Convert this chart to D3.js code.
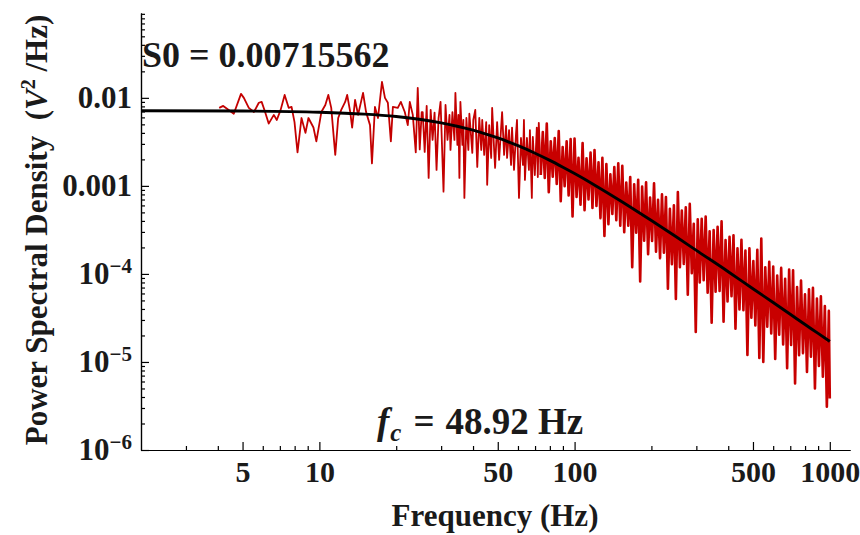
<!DOCTYPE html>
<html lang="en">
<head>
<meta charset="UTF-8">
<title>Power Spectral Density</title>
<script src="https://d3js.org/d3.v7.min.js"></script>
<style>
    body { margin: 0; background: #fff; }
    svg { display: block; background: #fff; font-family: "Liberation Serif", "Times New Roman", serif; font-weight: bold; }
    .axis path, .axis line { stroke: #000; stroke-width: 1.2px; }
    .axis text { font-size: 30px; font-weight: bold; fill: #1a1a1a; font-family: "Liberation Serif", serif; }
    .psd { fill: none; stroke: #c40000; stroke-width: 1.8px; stroke-linejoin: round; }
    .psd.dense { stroke: #c80000; stroke-width: 2.6px; }
    .fit { fill: none; stroke: #000; stroke-width: 2.9px; }
    .label { fill: #1a1a1a; white-space: pre; }
</style>
</head>
<body>
<div id="chart"></div>
<script>
// measured spectrum, [frequency (Hz), PSD (V^2/Hz)]
const measuredPsd = [
    [4.05, 7.7e-3], [4.20, 8.1e-3], [4.62, 6.6e-3], [4.93, 1.11e-2], [5.06, 1.0e-2], [5.29, 7.7e-3],
    [5.54, 6.9e-3], [5.79, 8.8e-3], [5.94, 9.0e-3], [6.11, 7.1e-3], [6.33, 5.1e-3], [6.63, 6.4e-3],
    [6.81, 5.6e-3], [7.05, 7.3e-3], [7.31, 1.08e-2], [7.58, 7.7e-3], [7.78, 7.9e-3], [7.99, 5.3e-3],
    [8.21, 2.4e-3], [8.51, 5.9e-3], [8.82, 4.0e-3], [9.06, 5.9e-3], [9.48, 4.6e-3], [9.73, 3.2e-3],
    [10.18, 6.9e-3], [10.55, 8.3e-3], [10.84, 1.08e-2], [11.13, 7.7e-3], [11.54, 2.25e-3], [11.85, 5.9e-3],
    [12.18, 7.3e-3], [12.62, 9.0e-3], [12.85, 1.08e-2], [13.21, 6.9e-3], [13.44, 4.6e-3], [13.80, 9.5e-3],
    [14.18, 6.4e-3], [14.83, 1.14e-2], [15.24, 6.9e-3], [15.79, 4.9e-3], [16.07, 1.8e-3], [16.51, 7.9e-3],
    [16.97, 5.9e-3], [17.59, 1.52e-2], [18.07, 1.0e-2], [18.55, 8.8e-3], [19.06, 3.2e-3], [19.41, 7.9e-3],
    [20.29, 7.7e-3], [20.85, 9.0e-3], [21.61, 6.9e-3], [22.20, 4.9e-3], [22.61, 9.0e-3], [23.23, 6.4e-3],
    [23.86, 2.4e-3], [24.29, 1.3e-2], [24.73, 2.6e-3], [25.17, 6.9e-3],
    [25.40, 6.9e-3], [25.86, 2.43e-3], [26.33, 8.1e-3], [26.80, 1.23e-3], [27.29, 7.3e-3], [27.77, 3.33e-3],
    [28.27, 6.8e-3], [28.78, 1.52e-3], [29.31, 5.9e-3], [29.84, 9.0e-3], [30.65, 8.6e-4], [31.21, 8.3e-3],
    [31.77, 3.33e-3], [32.35, 6.4e-3], [32.64, 2.56e-3], [33.22, 6.9e-3], [33.82, 3.33e-3], [34.12, 1.14e-2],
    [34.74, 2.92e-3], [35.06, 6.4e-3], [35.37, 1.23e-3], [35.69, 9.0e-3], [36.34, 2.92e-3], [36.67, 5.6e-3],
    [37.00, 7.3e-4], [37.67, 5.9e-3], [38.35, 2.56e-3], [38.70, 6.6e-3], [39.40, 3.33e-3], [39.74, 2.37e-3],
    [40.10, 5.6e-3], [40.82, 7.3e-3], [41.56, 1.64e-3], [42.32, 5.9e-3], [43.08, 2.56e-3], [43.46, 5.6e-3],
    [44.25, 2.25e-3], [45.05, 5.3e-3], [45.45, 1.03e-3], [46.28, 4.9e-3], [47.12, 2.08e-3], [47.53, 7.7e-3],
    [48.39, 2.56e-3], [48.82, 1.6e-3], [49.71, 5.3e-3], [50.61, 1.97e-3], [52.00, 6.9e-3], [52.94, 2.25e-3],
    [53.90, 4.8e-3], [54.38, 2.08e-3], [55.37, 4.3e-3], [56.37, 1.73e-3], [56.87, 4.6e-3], [57.90, 1.52e-3],
    [58.95, 3.9e-3], [59.47, 5.6e-3], [60.55, 7.3e-4], [61.65, 3.5e-3], [62.76, 1.73e-3], [63.32, 5.6e-3],
    [63.89, 1.17e-3], [65.05, 3.5e-3], [66.23, 1.52e-3], [66.83, 4.3e-3], [68.00, 7.3e-4], [68.61, 3.6e-3],
    [69.85, 1.33e-3], [71.11, 4.6e-3], [71.76, 1.26e-3], [72.40, 5.2e-3], [73.72, 1.33e-3],
    [75.07, 4.1e-3], [76.42, 1.23e-3], [77.81, 5.1e-3], [79.22, 8.5e-4], [80.66, 3.2e-3],
    [82.13, 1.27e-3], [83.61, 3.5e-3], [85.13, 1.05e-3], [86.67, 4.2e-3], [88.25, 6.7e-4],
    [89.80, 2.76e-3], [91.42, 9.9e-4], [93.08, 3.2e-3], [94.77, 7.8e-4], [96.49, 3.4e-3],
    [98.18, 4.5e-4], [99.95, 3.45e-3], [101.8, 7.5e-4], [103.6, 2.09e-3], [105.5, 6.1e-4],
    [107.5, 3.07e-3], [109.4, 5.3e-4], [111.4, 2.06e-3], [113.4, 7.0e-4], [115.5, 2.39e-3],
    [117.5, 5.6e-4], [119.7, 2.56e-3], [121.8, 5.9e-4], [124.1, 1.85e-3], [126.3, 4.3e-4],
    [128.5, 2.09e-3], [130.9, 2.7e-4], [133.2, 1.77e-3], [135.7, 3.66e-4], [138.1, 1.35e-3],
    [140.6, 4.8e-4], [143.1, 1.64e-3], [145.7, 4.07e-4], [148.3, 1.8e-3], [151.0, 3.53e-4],
    [153.8, 1.69e-3], [156.5, 2.98e-4], [159.4, 1.09e-3], [162.3, 3.53e-4], [165.2, 1.26e-3],
    [168.2, 1.19e-4], [171.2, 1.04e-3], [174.3, 2.94e-4], [177.5, 1.17e-3], [180.7, 8.2e-5],
    [183.9, 9.8e-4], [187.3, 2.38e-4], [190.6, 1.1e-3], [194.1, 1.67e-4], [197.6, 7.35e-4],
    [201.2, 2.37e-4], [204.8, 1.07e-3], [208.5, 1.79e-4], [212.3, 6.93e-4], [216.2, 1.51e-4],
    [220.0, 8.0e-4], [223.9, 1.74e-4], [228.0, 7.46e-4], [232.1, 6.8e-5], [236.3, 5.5e-4],
    [240.6, 1.29e-4], [245.0, 6.0e-4], [249.4, 5.2e-5], [253.9, 8.5e-4], [258.6, 1.19e-4],
    [263.1, 5.24e-4], [267.9, 1.3e-4], [272.7, 5.7e-4], [277.7, 5.8e-5], [282.7, 6.24e-4],
    [287.9, 1.02e-4], [293.1, 3.72e-4], [298.4, 2.19e-5], [303.8, 4.18e-4], [309.3, 8.0e-5],
    [314.8, 4.22e-4], [320.5, 8.5e-5], [326.3, 4.48e-4], [332.2, 6.1e-5], [338.2, 3.05e-4],
    [344.4, 2.79e-5], [350.6, 3.16e-4], [356.9, 6.3e-5], [363.4, 3.44e-4], [370.0, 6.4e-5],
    [376.7, 3.95e-4], [383.5, 2.86e-5], [390.4, 2.42e-4], [397.5, 4.86e-5], [404.7, 2.64e-4],
    [412.0, 5.6e-5], [419.4, 2.74e-4], [427.0, 2.38e-5], [434.8, 1.96e-4], [442.7, 3.94e-5],
    [450.6, 2.44e-4], [458.7, 3.87e-5], [467.1, 1.84e-4], [475.6, 1.2e-5], [484.2, 1.96e-4],
    [492.8, 3.18e-5], [501.7, 1.4e-4], [510.8, 2.6e-5], [520.0, 1.88e-4], [529.5, 1.11e-5],
    [539.0, 2.53e-4], [548.8, 1.0e-5], [558.7, 1.19e-4], [568.8, 2.52e-5], [579.1, 1.37e-4],
    [589.6, 2.11e-5], [600.2, 1.21e-4], [611.1, 1.08e-5], [622.2, 9.6e-5], [633.5, 2.04e-5],
    [644.9, 1.17e-4], [656.5, 1.58e-5], [668.4, 8.8e-5], [680.5, 8.5e-6], [692.9, 1.12e-4],
    [705.3, 1.56e-5], [718.0, 1.1e-4], [731.0, 5.7e-6], [744.3, 7.1e-5], [757.8, 1.19e-5],
    [771.4, 8.4e-5], [785.3, 1.26e-5], [799.5, 5.85e-5], [814.0, 7.7e-6], [828.8, 6.7e-5],
    [843.7, 1.15e-5], [859.0, 6.95e-5], [874.5, 5.0e-6], [890.4, 5.25e-5], [906.6, 9.0e-6],
    [922.7, 5.56e-5], [939.4, 6.8e-6], [956.4, 4.32e-5], [973.8, 3.1e-6], [991.4, 3.8e-5],
    [1000, 3.85e-6]
];

// fitted curve (black line)
const fitFreq = [2, 5, 10, 15, 20, 25, 30, 35, 40, 45, 50, 55, 60, 70, 80, 90, 100, 120, 150,
    200, 250, 300, 400, 500, 600, 700, 800, 900, 1000];
const fitPsd = [0.00714, 0.00708, 0.00687, 0.00654, 0.00613, 0.00567, 0.00520, 0.00473, 0.00429,
    0.00388, 0.00350, 0.00316, 0.00286, 0.00235, 0.00195, 0.00163, 0.00138, 0.00102, 0.000688,
    0.000404, 0.000264, 0.000185, 0.000106, 6.78e-5, 4.73e-5, 3.48e-5, 2.66e-5, 2.11e-5, 1.71e-5];

const xMajorTicks = [5, 10, 50, 100, 500, 1000];
const xTickLabels = ["5", "10", "50", "100", "500", "1000"];
const xMinorTicks = [3, 4, 6, 7, 8, 9, 20, 30, 40, 60, 70, 80, 90, 200, 300, 400, 600, 700, 800, 900];

const yMajorTicks = [1e-6, 1e-5, 1e-4, 0.001, 0.01];
const yTickLabels = [["10", "\u22126"], ["10", "\u22125"], ["10", "\u22124"], ["0.001", ""], ["0.01", ""]];
const yMinorTicks = [2e-6, 3e-6, 4e-6, 5e-6, 6e-6, 7e-6, 8e-6, 9e-6,
    2e-5, 3e-5, 4e-5, 5e-5, 6e-5, 7e-5, 8e-5, 9e-5,
    2e-4, 3e-4, 4e-4, 5e-4, 6e-4, 7e-4, 8e-4, 9e-4,
    0.002, 0.003, 0.004, 0.005, 0.006, 0.007, 0.008, 0.009,
    0.02, 0.03, 0.04, 0.05, 0.06, 0.07, 0.08, 0.09];

const s0Label = "S0 = 0.00715562";
const fcValue = "48.92 Hz";
const xTitle = "Frequency (Hz)";

const width = 860, height = 535;

const svg = d3.select("#chart").append("svg")
    .attr("width", width)
    .attr("height", height);

const x = d3.scaleLog().domain([2, 1200]).range([141, 850]);
const y = d3.scaleLog().domain([1e-6, 0.092]).range([450, 13]);

// axes: major + minor ticks pointing inward
svg.append("g")
    .attr("class", "axis")
    .attr("transform", "translate(0,450)")
    .call(d3.axisBottom(x).tickValues(xMinorTicks).tickFormat("").tickSize(-4).tickSizeOuter(0));

svg.append("g")
    .attr("class", "axis")
    .attr("transform", "translate(0,450)")
    .call(d3.axisBottom(x).tickValues(xMajorTicks).tickFormat((d, i) => xTickLabels[i])
        .tickSize(-8).tickSizeOuter(0).tickPadding(11));

svg.append("g")
    .attr("class", "axis")
    .attr("transform", "translate(141,0)")
    .call(d3.axisLeft(y).tickValues(yMinorTicks).tickFormat("").tickSize(-4).tickSizeOuter(0));

const yAxis = svg.append("g")
    .attr("class", "axis")
    .attr("transform", "translate(141,0)")
    .call(d3.axisLeft(y).tickValues(yMajorTicks).tickFormat("").tickSize(-8).tickSizeOuter(0).tickPadding(9));

yAxis.selectAll(".tick text").each(function (d, i) {
    const t = d3.select(this);
    const lab = yTickLabels[i];
    t.append("tspan").style("font-size", "31px").text(lab[0]);
    if (lab[1]) {
        t.append("tspan").attr("dy", -11).style("font-size", "21px").text(lab[1]);
    }
});

// data: sparse low-frequency part drawn thinner, the dense band a bit heavier
const line = d3.line().x(d => x(d[0])).y(d => y(d[1]));
const smooth = d3.line().x(d => x(d[0])).y(d => y(d[1])).curve(d3.curveMonotoneX);

svg.append("path")
    .datum(measuredPsd.filter(d => d[0] <= 73.72))
    .attr("class", "psd")
    .attr("d", line);

svg.append("path")
    .datum(measuredPsd.filter(d => d[0] >= 73.72))
    .attr("class", "psd dense")
    .attr("d", line);

svg.append("path")
    .datum(fitFreq.map((f, i) => [f, fitPsd[i]]))
    .attr("class", "fit")
    .attr("d", smooth);

// annotations
svg.append("text")
    .attr("class", "label")
    .attr("x", 142)
    .attr("y", 67)
    .style("font-size", "36px")
    .text(s0Label);

const fc = svg.append("text")
    .attr("class", "label")
    .attr("x", 377)
    .attr("y", 434)
    .style("font-size", "37px");
fc.append("tspan").style("font-style", "italic").text("f");
fc.append("tspan").style("font-style", "italic").style("font-size", "25px").attr("dy", 7).attr("dx", 1).text("c");
fc.append("tspan").attr("dy", -7).attr("dx", 12).text("=");
fc.append("tspan").attr("dx", 11).text(fcValue);

svg.append("text")
    .attr("class", "label")
    .attr("x", 495)
    .attr("y", 526)
    .attr("text-anchor", "middle")
    .style("font-size", "31px")
    .text(xTitle);

const yt = svg.append("text")
    .attr("class", "label")
    .attr("transform", "translate(47,230) rotate(-90)")
    .attr("text-anchor", "middle")
    .style("font-size", "31px");
yt.append("tspan").text("Power Spectral Density  (");
yt.append("tspan").style("font-style", "italic").text("V");
yt.append("tspan").attr("dy", -12).style("font-size", "20px").text("2");
yt.append("tspan").attr("dy", 12).text(" /Hz)");
</script>
</body>
</html>
